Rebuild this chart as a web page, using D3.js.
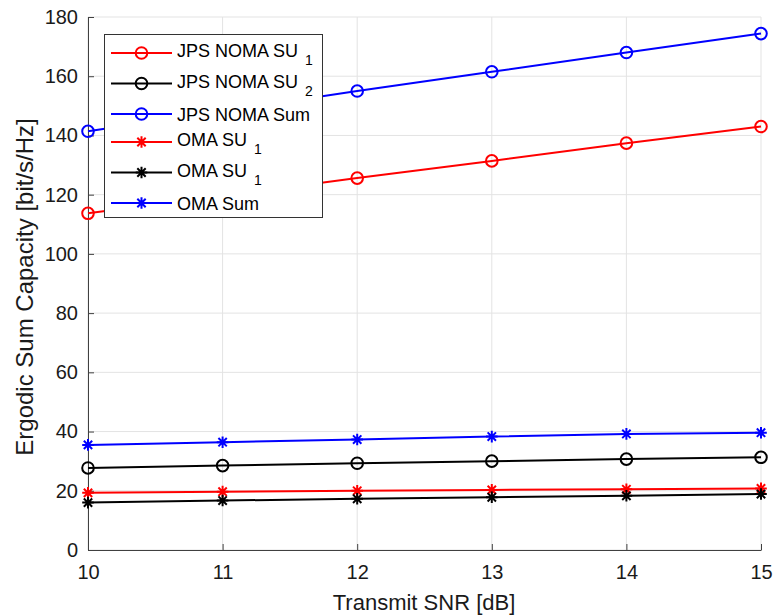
<!DOCTYPE html>
<html>
<head>
<meta charset="utf-8">
<script src="https://cdn.jsdelivr.net/npm/d3@7"></script>
<style>
  body { margin: 0; background: #fff; }
  text { font-family: "Liberation Sans", Arial, sans-serif; }
</style>
</head>
<body>
<svg class="chart" width="777" height="615"></svg>
<script>
// x values (Transmit SNR in dB)
var snr = [10, 11, 12, 13, 14, 15];

// series values
var jpsNomaSu1 = [113.7, 119.6, 125.6, 131.4, 137.4, 143.0];
var jpsNomaSu2 = [27.7, 28.5, 29.3, 30.0, 30.7, 31.3];
var jpsNomaSum = [141.4, 148.2, 155.0, 161.5, 168.0, 174.4];
var omaSu1 = [19.3, 19.7, 20.0, 20.3, 20.5, 20.8];
var omaSu2 = [16.0, 16.7, 17.3, 17.8, 18.3, 18.9];
var omaSum = [35.5, 36.4, 37.3, 38.3, 39.2, 39.6];

var xTicks = [10, 11, 12, 13, 14, 15];
var yTicks = [0, 20, 40, 60, 80, 100, 120, 140, 160, 180];

var series = [
    {name: "JPS NOMA SU", sub: "1", values: jpsNomaSu1, color: "#ff0000", marker: "circle"},
    {name: "JPS NOMA SU", sub: "2", values: jpsNomaSu2, color: "#000000", marker: "circle"},
    {name: "JPS NOMA Sum", sub: null, values: jpsNomaSum, color: "#0000ff", marker: "circle"},
    {name: "OMA SU", sub: "1", values: omaSu1, color: "#ff0000", marker: "star"},
    {name: "OMA SU", sub: "1", values: omaSu2, color: "#000000", marker: "star"},
    {name: "OMA Sum", sub: null, values: omaSum, color: "#0000ff", marker: "star"}
];

var svg = d3.select('.chart');
var plotLeft = 88, plotRight = 761, plotTop = 17, plotBottom = 550;

var x = d3.scaleLinear().domain([10, 15]).range([plotLeft, plotRight]);
var y = d3.scaleLinear().domain([0, 180]).range([plotBottom, plotTop]);

// grid
var grid = svg.append('g');
grid.selectAll('.gx')
    .data(xTicks)
    .enter()
    .append('line')
    .attr('x1', function (d) { return x(d); })
    .attr('x2', function (d) { return x(d); })
    .attr('y1', plotTop)
    .attr('y2', plotBottom)
    .attr('stroke', '#e3e3e3')
    .attr('stroke-width', 1);
grid.selectAll('.gy')
    .data(yTicks)
    .enter()
    .append('line')
    .attr('x1', plotLeft)
    .attr('x2', plotRight)
    .attr('y1', function (d) { return y(d); })
    .attr('y2', function (d) { return y(d); })
    .attr('stroke', '#e3e3e3')
    .attr('stroke-width', 1);

// axes, ticks pointing inward like matlab
var xAxis = svg.append('g')
    .attr('transform', 'translate(0,' + plotBottom + ')')
    .call(d3.axisBottom(x).tickValues(xTicks).tickFormat(d3.format('d'))
        .tickSizeInner(-6).tickSizeOuter(0).tickPadding(15));
var yAxis = svg.append('g')
    .attr('transform', 'translate(' + plotLeft + ',0)')
    .call(d3.axisLeft(y).tickValues(yTicks).tickFormat(d3.format('d'))
        .tickSizeInner(-6).tickSizeOuter(0).tickPadding(10));

[xAxis, yAxis].forEach(function (a) {
    a.select('.domain').attr('stroke', '#404040').attr('stroke-width', 1);
    a.selectAll('.tick line').attr('stroke', '#404040');
    a.selectAll('.tick text')
        .attr('fill', '#1a1a1a')
        .style('font-size', '20px')
        .style('font-family', '"Liberation Sans", Arial, sans-serif');
});

svg.append('text')
    .attr('x', 424)
    .attr('y', 610)
    .attr('text-anchor', 'middle')
    .attr('fill', '#1a1a1a')
    .style('font-size', '22px')
    .text('Transmit SNR [dB]');

svg.append('text')
    .attr('transform', 'translate(33,287) rotate(-90)')
    .attr('text-anchor', 'middle')
    .attr('fill', '#1a1a1a')
    .style('font-size', '24px')
    .text('Ergodic Sum Capacity [bit/s/Hz]');

// marker helpers
function starPath(r) {
    var a = r * 0.72;
    return 'M' + (-r) + ',0L' + r + ',0M0,' + (-r) + 'L0,' + r +
        'M' + (-a) + ',' + (-a) + 'L' + a + ',' + a +
        'M' + (-a) + ',' + a + 'L' + a + ',' + (-a);
}

function drawMarker(g, s, cx, cy) {
    if (s.marker === 'circle') {
        g.append('circle')
            .attr('cx', cx)
            .attr('cy', cy)
            .attr('r', 5.8)
            .attr('fill', 'none')
            .attr('stroke', s.color)
            .attr('stroke-width', 2);
    } else {
        g.append('path')
            .attr('d', starPath(5.8))
            .attr('transform', 'translate(' + cx + ',' + cy + ')')
            .attr('fill', 'none')
            .attr('stroke', s.color)
            .attr('stroke-width', 2);
    }
}

var line = d3.line()
    .x(function (d, i) { return x(snr[i]); })
    .y(function (d) { return y(d); });

var plot = svg.append('g');
series.forEach(function (s) {
    var g = plot.append('g');
    g.append('path')
        .attr('d', line(s.values))
        .attr('fill', 'none')
        .attr('stroke', s.color)
        .attr('stroke-width', 2);
    s.values.forEach(function (v, i) {
        drawMarker(g, s, x(snr[i]), y(v));
    });
});

// legend
var leg = svg.append('g');
leg.append('rect')
    .attr('x', 104.5)
    .attr('y', 34.5)
    .attr('width', 218)
    .attr('height', 183)
    .attr('fill', '#ffffff')
    .attr('stroke', '#333333')
    .attr('stroke-width', 1);

var rowY = 53;
series.forEach(function (s) {
    var g = leg.append('g');
    g.append('line')
        .attr('x1', 111)
        .attr('x2', 172)
        .attr('y1', rowY)
        .attr('y2', rowY)
        .attr('stroke', s.color)
        .attr('stroke-width', 2);
    drawMarker(g, s, 141.5, rowY);

    var t = g.append('text')
        .attr('x', 177)
        .attr('y', rowY + (s.sub ? 4 : 6.5))
        .attr('fill', '#000')
        .style('font-size', '18px');
    t.append('tspan').text(s.name);
    if (s.sub) {
        t.append('tspan')
            .attr('dx', 7)
            .attr('dy', 8)
            .style('font-size', '14px')
            .text(s.sub);
    }
    rowY += s.sub ? 30.5 : 28;
});
</script>
</body>
</html>
